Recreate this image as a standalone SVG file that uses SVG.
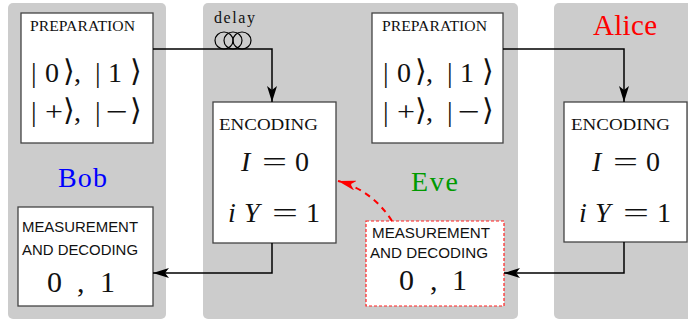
<svg xmlns="http://www.w3.org/2000/svg" width="688" height="320" viewBox="0 0 688 320">
<style>
.panel{fill:#cccccc}
.box{fill:#ffffff;stroke:#444444;stroke-width:1.3}
.dbox{fill:#ffffff;stroke:#ff2020;stroke-width:1.2;stroke-dasharray:3 2}
.ser{font-family:'Liberation Serif','Times New Roman',Times,serif;fill:#111}
.sans{font-family:'Liberation Sans',Arial,Helvetica,sans-serif;fill:#111;font-size:15px}
.hd{font-size:14px}
.hd2{font-size:17px}
.m{font-size:28px}
.m2{font-size:30px}
.it{font-style:italic}
.br{font-family:'DejaVu Serif','DejaVu Sans',serif;font-size:30px;fill:#111}
.conn{fill:none;stroke:#000;stroke-width:1.5}
.red{fill:none;stroke:#ff0000;stroke-width:2;stroke-dasharray:6 5}
</style>
<defs>
<marker id="ah" viewBox="0 0 16 10" refX="16" refY="5" markerWidth="16" markerHeight="10" markerUnits="userSpaceOnUse" orient="auto"><path d="M0,0 L16,5 L0,10 L4,5 z" fill="#000"/></marker>
<marker id="ahr" viewBox="0 0 18 10" refX="18" refY="5" markerWidth="18" markerHeight="10" markerUnits="userSpaceOnUse" orient="auto"><path d="M0,0 L18,5 L0,10 L5,5 z" fill="#ff0000"/></marker>
</defs>

<g id="panels">
<rect class="panel" x="8" y="3" width="158" height="316" rx="5"/>
<rect class="panel" x="203" y="3" width="315" height="316" rx="5"/>
<rect class="panel" x="554" y="3" width="145" height="316" rx="5"/>
</g>

<g id="labels">
<text class="ser" x="58" y="187" font-size="28" style="fill:#0000ff" textLength="49">Bob</text>
<text class="ser" x="411" y="191" font-size="28" style="fill:#009a00" textLength="47">Eve</text>
<text class="ser" x="593" y="35" font-size="29" style="fill:#ff0000" textLength="64">Alice</text>
</g>

<g id="bob-preparation">
<rect class="box" x="21" y="13" width="132" height="130"/>
<text class="ser hd" x="30" y="31" textLength="105" lengthAdjust="spacingAndGlyphs">PREPARATION</text>
<text class="ser m" x="31" y="82">|</text><text class="ser m" x="45" y="82">0</text><text class="br" x="63" y="81">⟩</text><text class="ser m" x="74" y="82">,</text>
<text class="ser m" x="95" y="82">|</text><text class="ser m" x="108" y="82">1</text><text class="br" x="130" y="81">⟩</text>
<text class="ser m" x="31" y="121">|</text><text class="ser m" x="45" y="121" textLength="18" lengthAdjust="spacingAndGlyphs">+</text><text class="br" x="63" y="120">⟩</text><text class="ser m" x="74" y="121">,</text>
<text class="ser m" x="95" y="121">|</text><text class="ser m" x="106" y="121" textLength="22" lengthAdjust="spacingAndGlyphs">−</text><text class="br" x="130" y="120">⟩</text>
</g>

<g id="eve-preparation">
<rect class="box" x="372" y="13" width="131" height="130"/>
<text class="ser hd" x="382" y="31" textLength="105" lengthAdjust="spacingAndGlyphs">PREPARATION</text>
<text class="ser m" x="383" y="82">|</text><text class="ser m" x="397" y="82">0</text><text class="br" x="415" y="81">⟩</text><text class="ser m" x="426" y="82">,</text>
<text class="ser m" x="447" y="82">|</text><text class="ser m" x="460" y="82">1</text><text class="br" x="482" y="81">⟩</text>
<text class="ser m" x="383" y="121">|</text><text class="ser m" x="397" y="121" textLength="18" lengthAdjust="spacingAndGlyphs">+</text><text class="br" x="415" y="120">⟩</text><text class="ser m" x="426" y="121">,</text>
<text class="ser m" x="447" y="121">|</text><text class="ser m" x="458" y="121" textLength="22" lengthAdjust="spacingAndGlyphs">−</text><text class="br" x="482" y="120">⟩</text>
</g>

<g id="eve-encoding">
<rect class="box" x="213" y="102" width="123" height="141"/>
<text class="ser hd2" x="219" y="130" textLength="99" lengthAdjust="spacingAndGlyphs">ENCODING</text>
<text class="ser m it" x="241" y="171">I</text><text class="ser m" x="262" y="171" textLength="25" lengthAdjust="spacingAndGlyphs">=</text><text class="ser m" x="295" y="171">0</text>
<text class="ser m it" x="228" y="222">i</text><text class="ser m it" x="244" y="222">Y</text><text class="ser m" x="272" y="222" textLength="26" lengthAdjust="spacingAndGlyphs">=</text><text class="ser m" x="306" y="222">1</text>
</g>

<g id="alice-encoding">
<rect class="box" x="564" y="102" width="123" height="140"/>
<text class="ser hd2" x="571" y="130" textLength="99" lengthAdjust="spacingAndGlyphs">ENCODING</text>
<text class="ser m it" x="592" y="171">I</text><text class="ser m" x="613" y="171" textLength="25" lengthAdjust="spacingAndGlyphs">=</text><text class="ser m" x="646" y="171">0</text>
<text class="ser m it" x="579" y="222">i</text><text class="ser m it" x="595" y="222">Y</text><text class="ser m" x="623" y="222" textLength="26" lengthAdjust="spacingAndGlyphs">=</text><text class="ser m" x="657" y="222">1</text>
</g>

<g id="bob-measurement">
<rect class="box" x="18" y="207" width="135" height="99"/>
<text class="sans" x="22" y="232" textLength="116" lengthAdjust="spacingAndGlyphs">MEASUREMENT</text>
<text class="sans" x="22" y="255" textLength="116" lengthAdjust="spacingAndGlyphs">AND DECODING</text>
<text class="ser m2" x="47" y="292">0</text><text class="ser m2" x="77" y="292">,</text><text class="ser m2" x="100" y="292">1</text>
</g>

<g id="eve-measurement">
<rect class="dbox" x="366" y="221" width="138" height="85"/>
<text class="sans" x="372" y="238" textLength="118" lengthAdjust="spacingAndGlyphs">MEASUREMENT</text>
<text class="sans" x="370" y="258" textLength="118" lengthAdjust="spacingAndGlyphs">AND DECODING</text>
<text class="ser m2" x="399" y="290">0</text><text class="ser m2" x="430" y="290">,</text><text class="ser m2" x="452" y="290">1</text>
</g>

<g id="connectors">
<path class="conn" d="M153,49 H272 V102" marker-end="url(#ah)"/>
<path class="conn" d="M503,49 H624 V102" marker-end="url(#ah)"/>
<path class="conn" d="M272,243 V273 H153" marker-end="url(#ah)"/>
<path class="conn" d="M624,242 V273 H504" marker-end="url(#ah)"/>
<path class="red" d="M392,221 Q372,190 338,181" marker-end="url(#ahr)"/>
<g id="delay" fill="none" stroke="#000" stroke-width="1.2">
<ellipse cx="224" cy="40.5" rx="9" ry="8.5"/>
<ellipse cx="233" cy="40.5" rx="9" ry="8.5"/>
<ellipse cx="242" cy="40.5" rx="9" ry="8.5"/>
</g>
<text class="ser" x="214" y="23" font-size="16" textLength="41">delay</text>
</g>
</svg>
